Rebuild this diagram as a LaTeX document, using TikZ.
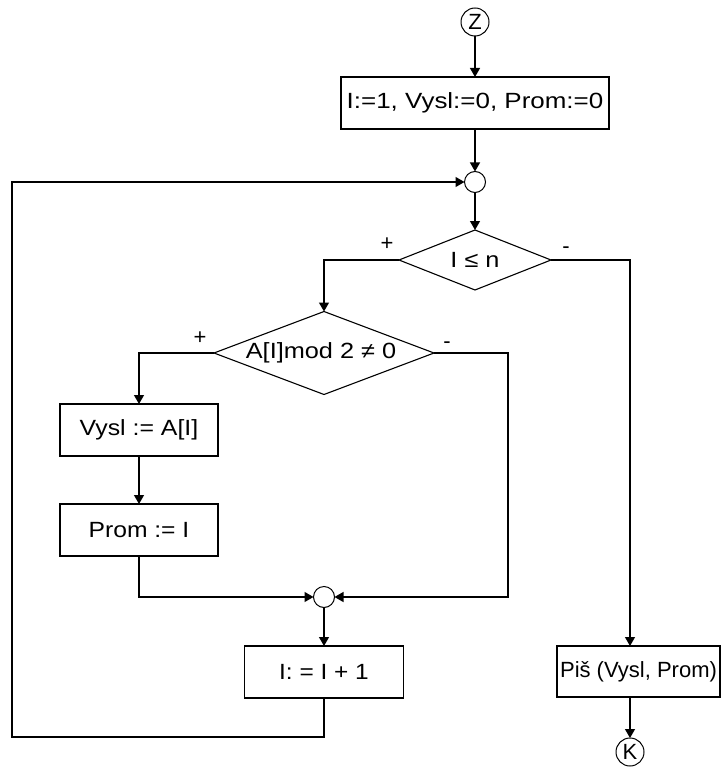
\documentclass[tikz,border=0pt]{standalone}
\usepackage{fontspec}
\usepackage{graphicx}
\setmainfont{Liberation Sans}
\usetikzlibrary{shapes.geometric,arrows.meta}
\newcommand{\sxt}[2]{\scalebox{#1}[1]{#2}}
\begin{document}
\begin{tikzpicture}[x=1pt,y=-1pt,
  every node/.style={font=\fontsize{22}{26}\selectfont, inner sep=0pt, outer sep=0pt},
  proc/.style={draw, line width=1.2pt, rectangle, minimum height=52pt},
  dec/.style={draw, diamond, line width=1.1pt},
  junc/.style={draw, circle, minimum size=21pt, line width=1pt},
  term/.style={draw, circle, minimum size=28pt, line width=1pt},
  sign/.style={font=\fontsize{22}{24}\selectfont},
  flow/.style={line width=1.2pt, -{Triangle[length=9pt,width=10pt]}},
  plain/.style={line width=1.2pt}
]
\useasboundingbox (0,0) rectangle (721,767);

\node[term] (Z) at (475,22) {Z};
\node[proc, minimum width=268pt] (init) at (475,103) {\sxt{1.18}{I:=1, Vysl:=0, Prom:=0}};
\node[junc] (j1) at (475,182) {};
\node[dec, minimum width=152pt, minimum height=60pt] (d1) at (475,260) {};
\node (d1t) at (d1) {\sxt{1.15}{I ≤ n}};
\node[dec, minimum width=220pt, minimum height=83pt] (d2) at (324,353) {};
\node (d2t) at (321,353) {\sxt{1.15}{A[I]mod 2 ≠ 0}};
\node[proc, minimum width=158pt] (vysl) at (139,430) {\sxt{1.13}{Vysl := A[I]}};
\node[proc, minimum width=158pt] (prom) at (139,530) {\sxt{1.12}{Prom := I}};
\node[junc] (j2) at (324,597) {};
\node[proc, minimum width=159pt] (inc) at (324,672) {\sxt{1.11}{I: = I + 1}};
\node[proc, minimum width=163pt, minimum height=51pt] (pis) at (638.5,671.5) {Piš (Vysl, Prom)};
\node[term] (K) at (630,752) {K};

\node[sign] (p1) at (387,244) {+};
\node[sign] (m1) at (566,250) {-};
\node[sign] (p2) at (200,338) {+};
\node[sign] (m2) at (447,345) {-};

\coordinate (lb) at (12,737);
\coordinate (r2) at (508,597);

\draw[flow] (Z) -- (init);
\draw[flow] (init) -- (j1);
\draw[flow] (j1) -- (d1.north);
\draw[flow] (d1.west) -| (d2.north);
\draw[flow] (d1.east) -| (K |- pis.north);
\draw[flow] (d2.west) -| (vysl.north);
\draw[flow] (vysl) -- (prom);
\draw[flow] (prom.south) |- (j2.west);
\draw[flow] (d2.east) -| (r2) -- (j2.east);
\draw[flow] (j2) -- (inc);
\draw[flow] (pis.south -| K) -- (K);
\draw[flow] (inc.south) |- (lb) |- (j1.west);
\end{tikzpicture}
\end{document}
